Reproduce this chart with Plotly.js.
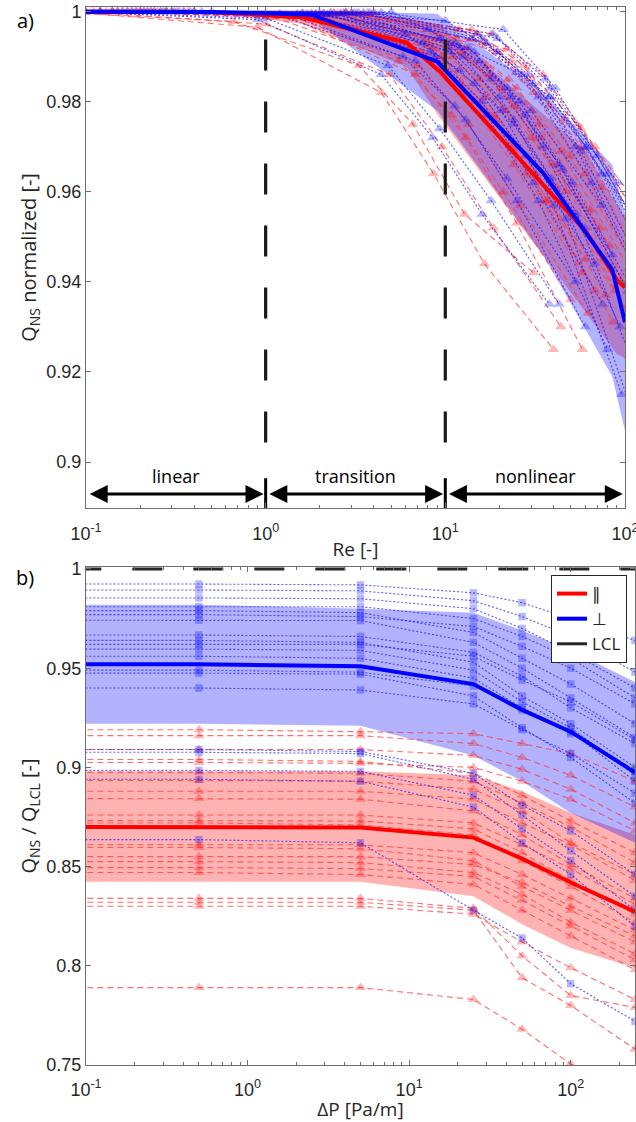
<!DOCTYPE html>
<html><head><meta charset="utf-8">
<script src="https://cdn.plot.ly/plotly-3.0.1.min.js"></script>
<style>html,body{margin:0;padding:0;background:#fff}#plot{width:636px;height:1122px}</style>
</head><body><div id="plot"></div>
<script>
// ================= PANEL a) : Re [-] vs Q_NS normalized =================
const aRedRe = [
  [0.012,0.12,1.2,6,12,24,60],
  [0.015,0.15,1.5,7.4,14.5,28,68],
  [0.018,0.18,1.8,9,17.5,34,82],
  [0.022,0.22,2.2,11,21.5,42,100],
  [0.026,0.26,2.6,13,25,49,118],
  [0.03,0.3,3,15,29,57,135],
  [0.035,0.35,3.5,17,33,64,150],
  [0.04,0.4,4,19.5,38,74,175],
  [0.0066,0.066,0.66,3.3,6.6,12.8,31],
  [0.01,0.1,1,4.9,9.6,18.5,44],
  [0.014,0.14,1.4,6.8,13,25,58],
  [0.02,0.2,2,9.8,19.2,37,88],
  [0.024,0.24,2.4,12,23.5,46,110],
  [0.028,0.28,2.8,14,27.5,54,130],
  [0.028,0.28,2.8,14,22,57,140],
  [0.016,0.16,1.6,8,15.5,30,72],
  [0.009,0.09,0.9,4.4,8.6,16.5,40],
  [0.013,0.13,1.3,6.5,12.5,24,58],
  [0.017,0.17,1.7,8.5,16.5,32,78],
  [0.021,0.21,2.1,10.5,20.5,40,96],
  [0.025,0.25,2.5,12.5,24,47,112],
  [0.019,0.19,1.9,9.5,18.5,36,86],
  [0.011,0.11,1.1,5.5,10.8,21,50],
  [0.023,0.23,2.3,11.5,22.5,44,105],
  [0.032,0.32,3.2,16,31,60,145],
  [0.014,0.14,1.4,7,13.5,26,62],
  [0.037,0.37,3.7,18,35,68,160]
];
const aRedQ = [
  [1,1,0.9992,0.993,0.984,0.970,0.945],
  [1,1,0.9994,0.991,0.980,0.964,0.938],
  [1,1,0.9996,0.994,0.986,0.972,0.948],
  [1,0.9999,0.9993,0.990,0.978,0.961,0.934],
  [1,1,0.9995,0.992,0.983,0.968,0.942],
  [1,1,0.9997,0.995,0.985,0.970,0.946],
  [1,0.9999,0.9994,0.988,0.975,0.956,0.925],
  [1,1,0.9996,0.991,0.979,0.961,0.932],
  [1,0.9999,0.9978,0.988,0.975,0.955,0.942],
  [1,0.9999,0.9972,0.986,0.970,0.952,0.930],
  [1,1,0.9985,0.986,0.972,0.953,0.925],
  [1,1,0.9992,0.989,0.976,0.958,0.938],
  [1,1,0.9997,0.996,0.989,0.976,0.955],
  [1,1,0.9998,0.996,0.988,0.975,0.955],
  [1,1,0.9999,0.9938,0.9916,0.974,0.950],
  [1,1,0.9996,0.993,0.985,0.972,0.952],
  [1,0.9998,0.9965,0.982,0.964,0.944,0.925],
  [1,1,0.9993,0.992,0.982,0.966,0.942],
  [1,1,0.9995,0.992,0.981,0.964,0.937],
  [1,1,0.9996,0.993,0.983,0.966,0.940],
  [1,1,0.9996,0.991,0.979,0.960,0.930],
  [1,1,0.9994,0.990,0.977,0.958,0.931],
  [1,1,0.9988,0.989,0.977,0.960,0.936],
  [1,1,0.9997,0.994,0.985,0.969,0.943],
  [1,1,0.9997,0.993,0.982,0.964,0.935],
  [1,1,0.999,0.988,0.975,0.957,0.933],
  [1,1,0.9998,0.995,0.986,0.970,0.945]
];
const aBlueRe = [
  [0.012,0.12,1.2,6,12,24,60],
  [0.016,0.16,1.6,8,15.5,30,74],
  [0.02,0.2,2,10,19.5,38,92],
  [0.024,0.24,2.4,12,23,45,110],
  [0.028,0.28,2.8,14,27,53,128],
  [0.033,0.33,3.3,16,31,61,146],
  [0.038,0.38,3.8,18.5,36,70,165],
  [0.044,0.44,4.4,21,41,80,190],
  [0.01,0.1,1,4.8,9.3,18,43],
  [0.014,0.14,1.4,6.8,13,25,60],
  [0.018,0.18,1.8,8.8,17,33,80],
  [0.022,0.22,2.2,10.6,20.5,40,96],
  [0.026,0.26,2.6,12.6,24,47,112],
  [0.03,0.3,3,14.5,28,54,128],
  [0.009,0.09,0.9,4.4,8.5,16,38],
  [0.05,0.5,5,25,38,61,130],
  [0.015,0.15,1.5,7.5,14.5,28,68],
  [0.019,0.19,1.9,9.4,18,35,85],
  [0.023,0.23,2.3,11.4,22,43,104],
  [0.027,0.27,2.7,13.5,26,51,122],
  [0.035,0.35,3.5,17,33,65,155],
  [0.012,0.12,1.2,5.8,11.3,22,53],
  [0.017,0.17,1.7,8.3,16,31,75],
  [0.021,0.21,2.1,10.3,20,39,94],
  [0.04,0.4,4,19.5,38,74,175],
  [0.031,0.31,3.1,15,29,57,137]
];
const aBlueQ = [
  [1,1,0.9995,0.995,0.987,0.975,0.952],
  [1,1,0.9996,0.996,0.989,0.978,0.957],
  [1,1,0.9997,0.998,0.991,0.981,0.962],
  [1,1,0.9995,0.992,0.981,0.965,0.936],
  [1,1,0.9996,0.994,0.986,0.970,0.940],
  [1,1,0.9997,0.994,0.984,0.970,0.945],
  [1,1,0.9997,0.995,0.985,0.968,0.942],
  [1,1,0.9998,0.996,0.983,0.964,0.938],
  [1,0.9999,0.9985,0.988,0.974,0.958,0.935],
  [1,1,0.999,0.989,0.976,0.958,0.930],
  [1,1,0.9993,0.990,0.977,0.958,0.925],
  [1,1,0.9994,0.991,0.978,0.957,0.915],
  [1,1,0.9995,0.990,0.976,0.954,0.910],
  [1,1,0.9996,0.991,0.977,0.955,0.915],
  [1,0.9999,0.9982,0.986,0.972,0.955,0.935],
  [1,1,0.9999,0.9865,0.9811,0.9698,0.950],
  [1,1,0.9994,0.993,0.984,0.968,0.944],
  [1,1,0.9995,0.994,0.985,0.970,0.946],
  [1,1,0.9996,0.993,0.983,0.966,0.938],
  [1,1,0.9997,0.992,0.980,0.962,0.935],
  [1,1,0.9997,0.993,0.981,0.962,0.932],
  [1,1,0.999,0.990,0.979,0.963,0.940],
  [1,1,0.9993,0.991,0.980,0.962,0.935],
  [1,1,0.9995,0.992,0.981,0.963,0.930],
  [1,1,0.9998,0.994,0.983,0.964,0.935],
  [1,1,0.9997,0.995,0.986,0.969,0.940]
];
// mean curves and spread bands
const aRedMeanRe = [0.05,0.5,1.6,6.1,9.3,61,90,100];
const aRedMeanQ  = [1.0,0.9999,0.9987,0.9931,0.9867,0.951,0.9405,0.9387];
const aRedBandHi = [1.0003,1.0003,1.0001,0.9985,0.997,0.969,0.957,0.954];
const aRedBandLo = [0.9997,0.9996,0.9973,0.9877,0.9764,0.933,0.924,0.923];
const aBlueMeanRe = [0.05,0.5,1.8,9,35,85,100];
const aBlueMeanQ  = [1.0,0.9999,0.9993,0.9889,0.9642,0.9427,0.931];
const aBlueBandHi = [1.0005,1.0004,1.0002,0.9995,0.982,0.966,0.9553];
const aBlueBandLo = [0.9995,0.9994,0.9984,0.978,0.946,0.919,0.907];
// regimes
const regimeEdges  = [0.1, 1, 10, 100];
const regimeLabels = ['linear', 'transition', 'nonlinear'];
const regimeDashY  = [0.99378, 0.8998];
const regimeSepY   = [0.8898, 0.8964];
const regimeArrowY = 0.8929;
const regimeLabelY = 0.8938;

// ================= PANEL b) : ΔP [Pa/m] vs Q_NS / Q_LCL =================
const bDP = [0.05, 0.5, 5, 25, 50, 100, 250];
const bRedQ = [
  [0.919,0.919,0.918,0.917,0.912,0.907,0.893],
  [0.916,0.916,0.916,0.912,0.905,0.896,0.880],
  [0.909,0.909,0.909,0.906,0.899,0.889,0.872],
  [0.904,0.904,0.903,0.897,0.886,0.873,0.857],
  [0.9025,0.9025,0.902,0.900,0.893,0.884,0.868],
  [0.8975,0.8975,0.897,0.893,0.882,0.870,0.852],
  [0.8934,0.8934,0.893,0.889,0.878,0.862,0.846],
  [0.888,0.888,0.888,0.884,0.872,0.861,0.843],
  [0.8843,0.8843,0.884,0.878,0.866,0.851,0.834],
  [0.876,0.876,0.876,0.872,0.861,0.849,0.831],
  [0.8732,0.8732,0.873,0.869,0.857,0.843,0.826],
  [0.872,0.872,0.871,0.866,0.853,0.840,0.822],
  [0.861,0.861,0.861,0.857,0.846,0.834,0.818],
  [0.8596,0.8596,0.859,0.853,0.840,0.828,0.812],
  [0.855,0.855,0.855,0.851,0.842,0.830,0.815],
  [0.8525,0.8525,0.852,0.847,0.836,0.822,0.806],
  [0.8495,0.8495,0.849,0.845,0.833,0.820,0.803],
  [0.847,0.847,0.846,0.841,0.828,0.815,0.798],
  [0.834,0.834,0.834,0.829,0.805,0.785,0.779],
  [0.832,0.832,0.832,0.828,0.794,0.780,0.758],
  [0.830,0.830,0.830,0.826,0.812,0.799,0.783],
  [0.789,0.789,0.789,0.783,0.768,0.7505,0.735]
];
const bBlueQ = [
  [0.9924,0.9924,0.992,0.988,0.983,0.975,0.964],
  [0.9894,0.9894,0.989,0.984,0.976,0.966,0.948],
  [0.9854,0.9854,0.985,0.980,0.970,0.958,0.940],
  [0.981,0.981,0.981,0.975,0.966,0.955,0.935],
  [0.979,0.979,0.978,0.968,0.955,0.942,0.922],
  [0.977,0.977,0.976,0.971,0.961,0.950,0.932],
  [0.9742,0.9742,0.974,0.963,0.950,0.935,0.915],
  [0.9667,0.9667,0.966,0.958,0.946,0.930,0.912],
  [0.964,0.964,0.963,0.953,0.936,0.922,0.900],
  [0.962,0.962,0.962,0.956,0.944,0.933,0.914],
  [0.9596,0.9596,0.959,0.949,0.933,0.920,0.896],
  [0.956,0.956,0.955,0.945,0.930,0.918,0.893],
  [0.949,0.949,0.948,0.941,0.929,0.917,0.898],
  [0.9475,0.9475,0.947,0.936,0.920,0.905,0.882],
  [0.940,0.940,0.939,0.932,0.919,0.907,0.887],
  [0.909,0.909,0.908,0.897,0.881,0.868,0.846],
  [0.9076,0.9076,0.907,0.894,0.876,0.858,0.835],
  [0.8985,0.8985,0.898,0.886,0.869,0.853,0.828],
  [0.894,0.894,0.893,0.880,0.862,0.846,0.820],
  [0.8636,0.8636,0.862,0.828,0.814,0.791,0.772]
];
const bRedMean  = [0.870,0.870,0.8697,0.8646,0.854,0.842,0.8273];
const bRedHi    = [0.898,0.898,0.898,0.896,0.888,0.877,0.866];
const bRedLo    = [0.8424,0.8424,0.8424,0.835,0.821,0.809,0.799];
const bBlueMean = [0.952,0.952,0.951,0.942,0.929,0.918,0.8975];
const bBlueHi   = [0.982,0.982,0.980,0.978,0.969,0.959,0.943];
const bBlueLo   = [0.922,0.922,0.921,0.906,0.893,0.877,0.862];
const lclX = [0.034, 250];
const lclY = [1, 1];

// tick labels
const aXTickVals = [0.1, 1, 10, 100];
const aXTickText = ['10<sup>-1</sup>','10<sup>0</sup>','10<sup>1</sup>','10<sup>2</sup>'];
const bXTickVals = [0.1, 1, 10, 100];
const bXTickText = ['10<sup>-1</sup>','10<sup>0</sup>','10<sup>1</sup>','10<sup>2</sup>'];
const aYTickVals = [0.9, 0.92, 0.94, 0.96, 0.98, 1];
const aYTickText = ['0.9','0.92','0.94','0.96','0.98','1'];
const bYTickVals = [0.75, 0.8, 0.85, 0.9, 0.95, 1];
const bYTickText = ['0.75','0.8','0.85','0.9','0.95','1'];
const legendNames = ['\u2225', '\u22A5', 'LCL'];

// ================= styles =================
const RED_LINE = 'rgba(255,60,60,0.75)';
const BLUE_LINE = 'rgba(20,20,255,0.7)';
const RED_MK = 'rgba(255,0,0,0.28)';
const BLUE_MK = 'rgba(0,0,255,0.28)';
const RED_FILL = 'rgba(255,0,0,0.30)';
const BLUE_FILL = 'rgba(0,0,255,0.30)';
const TXT = '#262626';
const AXC = '#6e6e6e';

const traces = [];
function band(x, hi, lo, color, xa, ya) {
  traces.push({x: x.concat(x.slice().reverse()), y: hi.concat(lo.slice().reverse()),
    type:'scatter', mode:'lines', fill:'toself', fillcolor:color, line:{width:0},
    hoverinfo:'skip', showlegend:false, xaxis:xa, yaxis:ya});
}
function lines(xs, ys, sharedX, lc, dash, mk, sym, size, xa, ya) {
  ys.forEach((y, i) => traces.push({x: sharedX ? xs : xs[i], y: y, type:'scatter', mode:'lines+markers',
    line:{color:lc, width:1.1, dash:dash}, marker:{symbol:sym, size:size, color:mk},
    showlegend:false, xaxis:xa, yaxis:ya, cliponaxis:true}));
}

// panel a
band(aRedMeanRe, aRedBandHi, aRedBandLo, RED_FILL, 'x', 'y');
band(aBlueMeanRe, aBlueBandHi, aBlueBandLo, BLUE_FILL, 'x', 'y');
lines(aRedRe, aRedQ, false, RED_LINE, '6px,4px', RED_MK, 'triangle-up', 10, 'x', 'y');
lines(aBlueRe, aBlueQ, false, BLUE_LINE, '2px,2px', BLUE_MK, 'triangle-up', 10, 'x', 'y');
traces.push({x:aRedMeanRe, y:aRedMeanQ, type:'scatter', mode:'lines', line:{color:'#ff0000', width:4},
  showlegend:false, xaxis:'x', yaxis:'y'});
traces.push({x:aBlueMeanRe, y:aBlueMeanQ, type:'scatter', mode:'lines', line:{color:'#0000ff', width:4},
  showlegend:false, xaxis:'x', yaxis:'y'});
regimeEdges.slice(1, 3).forEach(e => {
  traces.push({x:[e, e], y:regimeDashY, type:'scatter', mode:'lines',
    line:{color:'#1a1a1a', width:3.2, dash:'31px,31px'}, showlegend:false, xaxis:'x', yaxis:'y'});
  traces.push({x:[e, e], y:regimeSepY, type:'scatter', mode:'lines',
    line:{color:'#000', width:3}, showlegend:false, xaxis:'x', yaxis:'y'});
});

// panel b
band(bDP, bRedHi, bRedLo, RED_FILL, 'x2', 'y2');
band(bDP, bBlueHi, bBlueLo, BLUE_FILL, 'x2', 'y2');
lines(bDP, bRedQ, true, RED_LINE, '6px,4px', RED_MK, 'triangle-up', 10, 'x2', 'y2');
lines(bDP, bBlueQ, true, BLUE_LINE, '2px,2px', BLUE_MK, 'square', 7.5, 'x2', 'y2');
traces.push({x:bDP, y:bRedMean, type:'scatter', mode:'lines', name:legendNames[0],
  line:{color:'#ff0000', width:4}, showlegend:true, xaxis:'x2', yaxis:'y2'});
traces.push({x:bDP, y:bBlueMean, type:'scatter', mode:'lines', name:legendNames[1],
  line:{color:'#0000ff', width:4}, showlegend:true, xaxis:'x2', yaxis:'y2'});
traces.push({x:lclX, y:lclY, type:'scatter', mode:'lines', name:legendNames[2],
  line:{color:'#262626', width:3, dash:'30px,31px'}, showlegend:true, xaxis:'x2', yaxis:'y2'});

// annotations
const annotations = [];
for (let i = 0; i < 3; i++) {
  const a = regimeEdges[i], b = regimeEdges[i + 1];
  const l0 = Math.log10(a), l1 = Math.log10(b);
  annotations.push({xref:'x', yref:'y', axref:'x', ayref:'y', x: l1 - 0.012, y: regimeArrowY,
    ax: l0 + 0.012, ay: regimeArrowY, text:'', showarrow:true, arrowhead:2, startarrowhead:2,
    arrowside:'end+start', arrowsize:1.2, arrowwidth:3, arrowcolor:'#000', standoff:0, startstandoff:0});
  annotations.push({xref:'x', yref:'y', x:(l0 + l1) / 2, y: regimeLabelY, text: regimeLabels[i],
    showarrow:false, yanchor:'bottom', font:{family:'Open Sans', size:18, color:'#000'}});
}
annotations.push({xref:'paper', yref:'paper', x:-0.111, y:0.9877, text:'a)', showarrow:false,
  xanchor:'center', yanchor:'middle', font:{family:'Open Sans', size:20, color:'#000'}});
annotations.push({xref:'paper', yref:'paper', x:-0.111, y:0.4612, text:'b)', showarrow:false,
  xanchor:'center', yanchor:'middle', font:{family:'Open Sans', size:20, color:'#000'}});

function axis(extra) {
  return Object.assign({showline:true, linecolor:AXC, linewidth:1, mirror:'allticks', ticks:'inside',
    ticklen:5, tickcolor:AXC, tickwidth:1, showgrid:false, zeroline:false, tickmode:'array',
    ticklabeloverflow:'allow',
    tickfont:{family:'Liberation Sans, Arial', size:18, color:TXT}}, extra);
}
const minorLog = {ticks:'inside', ticklen:3, tickcolor:AXC, dtick:'D1', showgrid:false};
const titleFont = {family:'Open Sans', size:20, color:TXT};
const xTitleFont = {family:'Open Sans', size:19, color:TXT};

const layout = {
  width:636, height:1122, paper_bgcolor:'#fff', plot_bgcolor:'rgba(0,0,0,0)',
  margin:{l:86, r:1, t:7, b:57},
  showlegend:true,
  legend:{x:0.9854, y:0.4631, xanchor:'right', yanchor:'top', xref:'paper', yref:'paper',
    bgcolor:'#fff', bordercolor:TXT, borderwidth:1, font:{family:'Open Sans', size:17, color:TXT},
    itemwidth:30, tracegroupgap:0},
  xaxis: axis({type:'log', range:[-1, 2.0003], domain:[0, 0.9818], anchor:'y', tickvals:aXTickVals,
    ticktext:aXTickText, minor:minorLog, ticklabelstandoff:9,
    title:{text:'Re [-]', font:xTitleFont, standoff:0}}),
  yaxis: axis({range:[0.8898, 1.001], domain:[0.5265, 1], anchor:'x', tickvals:aYTickVals,
    ticktext:aYTickText, title:{text:'Q<sub>NS</sub> normalized [-]', font:titleFont, standoff:4}}),
  xaxis2: axis({type:'log', range:[-1, Math.log10(250)], domain:[0, 1], anchor:'y2', tickvals:bXTickVals,
    ticktext:bXTickText, minor:minorLog, ticklabelstandoff:8,
    title:{text:'\u0394P [Pa/m]', font:xTitleFont, standoff:3}}),
  yaxis2: axis({range:[0.75, 1.001], domain:[0, 0.4707], anchor:'x2', tickvals:bYTickVals,
    ticktext:bYTickText, title:{text:'Q<sub>NS</sub> / Q<sub>LCL</sub> [-]', font:titleFont, standoff:4}}),
  annotations: annotations
};

Plotly.newPlot('plot', traces, layout, {displayModeBar:false, staticPlot:true});
</script>
</body></html>
